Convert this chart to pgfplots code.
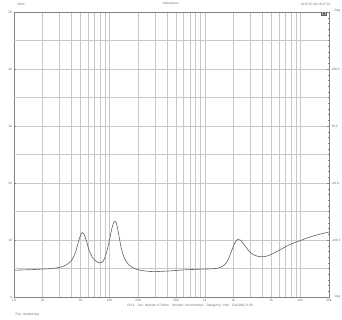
\documentclass[border=0pt]{standalone}
\usepackage{pgfplots}
\pgfplotsset{compat=1.18}
\usepackage{fontspec}
\setmainfont{Liberation Sans}
\pgfplotstableread{
f Z
10 4.7
15 4.8
20 4.9
25 5.0
30 5.2
35 5.6
40 6.4
44 7.8
47 9.5
50 10.9
52 11.3
54 11.1
57 10.0
61 8.3
66 7.0
72 6.3
78 6.0
83 6.05
88 6.6
94 8.0
100 10.0
106 12.0
111 13.1
115 13.3
119 12.8
125 11.0
133 8.6
142 7.0
155 5.9
170 5.3
190 4.9
210 4.7
240 4.55
290 4.45
350 4.5
450 4.6
600 4.75
800 4.85
1000 4.9
1200 4.95
1400 5.1
1600 5.6
1750 6.5
1900 8.0
2050 9.4
2200 10.1
2350 10.0
2550 9.3
2800 8.4
3100 7.6
3500 7.2
3900 7.05
4300 7.1
5000 7.5
6000 8.2
7000 8.8
8000 9.3
10000 9.9
12500 10.5
15000 10.9
20000 11.4
}\imp
\definecolor{gridc}{RGB}{200,200,200}
\definecolor{axc}{RGB}{130,130,130}
\definecolor{curvec}{RGB}{95,95,95}
\definecolor{txtc}{RGB}{110,110,110}
\begin{document}
\begin{tikzpicture}[x=1pt,y=1pt]
\path[use as bounding box] (0,0) rectangle (342,320);
\begin{axis}[
  at={(14pt,23pt)}, anchor=south west,
  scale only axis, width=315pt, height=285pt,
  xmode=log, xmin=10, xmax=20000, ymin=0, ymax=50,
  log basis x=10,
  xtick={10,20,50,100,200,500,1000,2000,5000,10000,20000},
  xticklabels={10,20,50,100,200,500,1k,2k,5k,10k,20k},
  minor xtick={30,40,60,70,80,90,300,400,600,700,800,900,3000,4000,6000,7000,8000,9000},
  ytick={0,10,20,30,40,50},
  minor ytick={1,2,3,4,5,6,7,8,9,11,12,13,14,15,16,17,18,19,21,22,23,24,25,26,27,28,29,31,32,33,34,35,36,37,38,39,41,42,43,44,45,46,47,48,49},
  extra y ticks={5,15,25,35,45},
  extra y tick labels={},
  extra y tick style={grid=major, major grid style={gridc, line width=0.5pt}, tick style={draw=none}},
  xmajorgrids, xminorgrids, ymajorgrids,
  major grid style={gridc, line width=0.5pt},
  minor grid style={gridc, line width=0.5pt},
  axis line style={axc, line width=0.6pt},
  tick style={axc, line width=0.3pt},
  major tick length=2pt, minor tick length=1pt,
  tick align=inside,
  xtick style={draw=none},
  ytick pos=left,
  ticklabel style={font=\fontsize{3.2}{4}\selectfont, text=txtc},
  xticklabel style={yshift=1.5pt},
  yticklabel style={xshift=1.5pt},
  /pgf/number format/assume math mode=true,
  clip=true,
]
\addplot[curvec, line width=0.6pt, smooth, tension=0.5] table[x=f,y=Z] {\imp};
\end{axis}
% right-hand phase axis
\begin{axis}[
  at={(14pt,23pt)}, anchor=south west,
  scale only axis, width=315pt, height=285pt,
  xmin=0, xmax=1, ymin=-180, ymax=180,
  axis x line=none, axis y line*=right,
  axis line style={axc, line width=0.6pt},
  ytick={-108,-36,36,108},
  yticklabels={-108.0,-36.0,36.0,108.0},
  minor ytick={-172.8,-165.6,-158.4,-151.2,-144,-136.8,-129.6,-122.4,-115.2,-100.8,-93.6,-86.4,-79.2,-72,-64.8,-57.6,-50.4,-43.2,-28.8,-21.6,-14.4,-7.2,0,7.2,14.4,21.6,28.8,43.2,50.4,57.6,64.8,72,79.2,86.4,93.6,100.8,115.2,122.4,129.6,136.8,144,151.2,158.4,165.6,172.8},
  tick align=inside,
  tick style={axc, line width=0.3pt},
  major tick length=2pt, minor tick length=1pt,
  ticklabel style={font=\fontsize{3.2}{4}\selectfont, text=txtc},
  yticklabel style={xshift=-1pt},
  /pgf/number format/assume math mode=true,
]
\addplot[draw=none] coordinates {(0,0)};
\end{axis}
\begin{scope}[font=\fontsize{3.2}{4}\selectfont, text=txtc]
\node[anchor=west] at (14,316) {Ohm};
\node at (171,316) {Impedance};
\node[anchor=east] at (334,316) {2015-07-08 16:47:22};
\node[anchor=west] at (331,309) {Deg};
\node[anchor=west] at (331,23) {Deg};
\node at (190,14) {CH-1\quad Ser. Resistor 47 Ohm\quad Smooth: Unsmoothed\quad Delay[ms]: 0.00\quad Gain[dB]: 0.00};
\node[anchor=west] at (12,5) {File: untitled.imp};
\node[fill=curvec, text=white, inner sep=0.6pt] at (324,306) {$\Omega$};
\end{scope}
\end{tikzpicture}
\end{document}
